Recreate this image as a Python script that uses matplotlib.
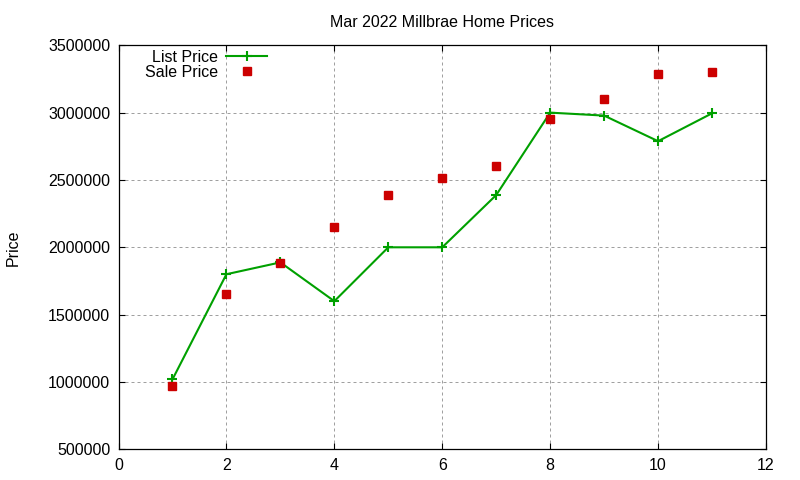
import matplotlib
matplotlib.use("Agg")
import matplotlib.pyplot as plt

plt.rcParams['font.family'] = ['Liberation Sans', 'DejaVu Sans']

title = "Mar 2022 Millbrae Home Prices"
ylabel = "Price"
x_vals = [1, 2, 3, 4, 5, 6, 7, 8, 9, 10, 11]
list_price = [1019000, 1800000, 1888000, 1600000, 2000000, 2000000, 2388000,
              3000000, 2978000, 2788000, 2995000]
sale_price = [970000, 1652000, 1882000, 2149000, 2386000, 2515000, 2604000,
              2952000, 3101000, 3286000, 3301000]
x_ticks = [0, 2, 4, 6, 8, 10, 12]
y_ticks = [500000, 1000000, 1500000, 2000000, 2500000, 3000000, 3500000]

green = "#00a000"
red = "#cc0000"
fs = 11.5

fig = plt.figure(figsize=(8, 4.8), dpi=100)
ax = fig.add_axes([118.5 / 800, 1 - 449.3 / 480, 647.5 / 800, 404 / 480])

ax.plot(x_vals, list_price, color=green, lw=1.5, marker='+', ms=7, mew=1.5,
        label="List Price", zorder=3)
ax.plot(x_vals, sale_price, color=red, lw=0, marker='s', ms=5.8,
        label="Sale Price", zorder=4)

ax.set_xlim(0, 12)
ax.set_ylim(500000, 3500000)
ax.set_xticks(x_ticks)
ax.set_yticks(y_ticks)
ax.set_xticklabels([str(v) for v in x_ticks])
ax.set_yticklabels([str(v) for v in y_ticks])

ax.grid(True, color="#a0a0a0", lw=0.72, linestyle=(0, (3, 3)))
ax.set_axisbelow(True)
for s in ax.spines.values():
    s.set_linewidth(0.9)
    s.set_color("black")
ax.tick_params(direction='in', length=4.3, width=0.8, top=True, right=True,
               labelsize=fs, pad=6)

ax.set_title(title, fontsize=fs, pad=13)
ax.set_ylabel(ylabel, fontsize=fs, labelpad=20)

leg = ax.legend(loc='upper left', bbox_to_anchor=(0.038, 0.9926), frameon=False,
                markerfirst=False, fontsize=fs, handlelength=2.6,
                handletextpad=0.5, labelspacing=0.0, borderpad=0.1,
                borderaxespad=0)

fig.savefig("out.png", dpi=100)
